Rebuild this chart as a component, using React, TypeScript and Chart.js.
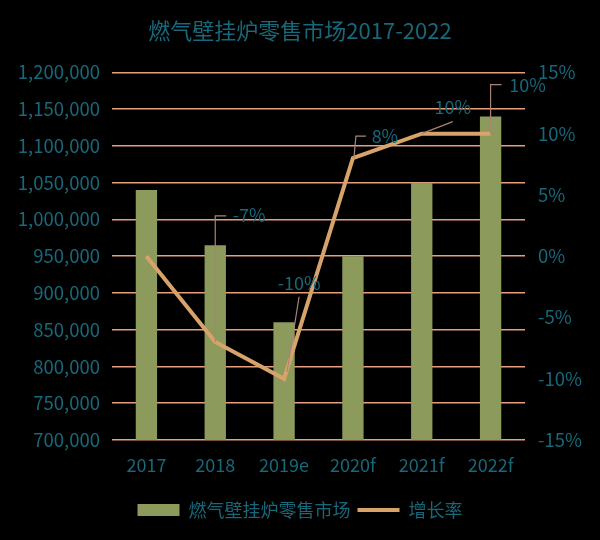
import React, { useEffect, useRef } from "react";
import { Chart, registerables } from "chart.js";

Chart.register(...registerables);

const TITLE = "燃气壁挂炉零售市场2017-2022";
const CATEGORIES = ["2017", "2018", "2019e", "2020f", "2021f", "2022f"];
const MARKET_LABEL = "燃气壁挂炉零售市场";
const MARKET_VALUES = [1040000, 965000, 860000, 950000, 1050000, 1140000];
const GROWTH_LABEL = "增长率";
const GROWTH_VALUES = [0, -7, -10, 8, 10, 10];
const GROWTH_TEXT = ["", "-7%", "-10%", "8%", "10%", "10%"];

const TEAL = "#17687a";
const GRID = "#e89e7c";
const BAR = "#8c9a5c";
const LINE = "#d8a36b";
const LEADER = "#a98476";
const FONT = "'Noto Sans CJK SC', 'Noto Sans', sans-serif";

// label placement (relative to the data point) and leader polylines
const LABEL_LAYOUT: ({ lx: number; ly: number; path: [number, number][] } | null)[] = [
  null,
  { lx: 34, ly: -127, path: [[0, 0], [0, -126], [11, -126]] },
  { lx: 15, ly: -96, path: [[3, -7], [15, -82]] },
  { lx: 32, ly: -22, path: [[1, 0], [3, -22], [13, -22]] },
  { lx: 31, ly: -27, path: [[0, 0], [31, -12]] },
  { lx: 37, ly: -49, path: [[0, 0], [0, -49], [11, -49]] },
];

const labelPlugin = {
  id: "growthLabels",
  afterDatasetsDraw(chart: any) {
    const meta = chart.getDatasetMeta(1);
    const ctx = chart.ctx;
    ctx.save();
    meta.data.forEach((pt: any, i: number) => {
      const lay = LABEL_LAYOUT[i];
      if (!lay || !GROWTH_TEXT[i]) return;
      const x = pt.x;
      const y = pt.y;
      ctx.strokeStyle = LEADER;
      ctx.lineWidth = 1.2;
      ctx.beginPath();
      lay.path.forEach(([dx, dy], k) => {
        if (k === 0) ctx.moveTo(x + dx, y + dy);
        else ctx.lineTo(x + dx, y + dy);
      });
      ctx.stroke();
      ctx.fillStyle = TEAL;
      ctx.font = `18px ${FONT}`;
      ctx.textAlign = "center";
      ctx.textBaseline = "middle";
      ctx.fillText(GROWTH_TEXT[i], x + lay.lx, y + lay.ly);
    });
    ctx.restore();
  },
};

const bgPlugin = {
  id: "bg",
  beforeDraw(chart: any) {
    const ctx = chart.ctx;
    ctx.save();
    ctx.fillStyle = "#000";
    ctx.fillRect(0, 0, chart.width, chart.height);
    ctx.restore();
  },
};

export default function App() {
  const ref = useRef<HTMLCanvasElement | null>(null);
  useEffect(() => {
    if (!ref.current) return;
    const chart = new Chart(ref.current, {
      type: "bar",
      data: {
        labels: CATEGORIES,
        datasets: [
          {
            type: "bar",
            label: MARKET_LABEL,
            data: MARKET_VALUES,
            backgroundColor: BAR,
            yAxisID: "y",
            barPercentage: 0.31,
            categoryPercentage: 1,
            order: 2,
          } as any,
          {
            type: "line",
            label: GROWTH_LABEL,
            data: GROWTH_VALUES,
            borderColor: LINE,
            backgroundColor: LINE,
            borderWidth: 4,
            pointRadius: 0,
            tension: 0,
            yAxisID: "y1",
            order: 1,
          } as any,
        ],
      },
      options: {
        animation: false,
        responsive: false,
        layout: { padding: { left: 0, right: 0, top: 0, bottom: 11 } },
        plugins: {
          tooltip: { enabled: false },
          title: {
            display: true,
            text: TITLE,
            color: TEAL,
            font: { family: FONT, size: 22, weight: "normal" },
            padding: { top: 17, bottom: 29 },
          },
          legend: {
            display: true,
            position: "bottom",
            labels: {
              color: TEAL,
              font: { family: FONT, size: 18 },
              usePointStyle: true,
              pointStyleWidth: 42,
              boxHeight: 12,
              padding: 7,
              generateLabels: () => [
                {
                  text: MARKET_LABEL,
                  fillStyle: BAR,
                  strokeStyle: BAR,
                  lineWidth: 0,
                  pointStyle: "rect",
                  fontColor: TEAL,
                  datasetIndex: 0,
                } as any,
                {
                  text: GROWTH_LABEL,
                  fillStyle: LINE,
                  strokeStyle: LINE,
                  lineWidth: 4,
                  pointStyle: "line",
                  fontColor: TEAL,
                  datasetIndex: 1,
                } as any,
              ],
            },
          },
        },
        scales: {
          x: {
            grid: { display: false, drawTicks: false },
            border: { display: false },
            ticks: { color: TEAL, font: { family: FONT, size: 18 }, padding: 14 },
            afterFit: (s: any) => {
              s.height = 54;
            },
          },
          y: {
            position: "left",
            min: 700000,
            max: 1200000,
            ticks: {
              stepSize: 50000,
              color: TEAL,
              font: { family: FONT, size: 18.5 },
              padding: 12,
              callback: (v: any) => Number(v).toLocaleString("en-US"),
            },
            grid: { color: GRID, lineWidth: 1.5, drawTicks: false },
            border: { display: false },
            afterFit: (s: any) => {
              s.width = 112;
            },
          },
          y1: {
            position: "right",
            min: -15,
            max: 15,
            ticks: {
              stepSize: 5,
              color: TEAL,
              font: { family: FONT, size: 18.5 },
              padding: 13,
              callback: (v: any) => `${v}%`,
            },
            grid: { display: false, drawTicks: false },
            border: { display: false },
            afterFit: (s: any) => {
              s.width = 75;
            },
          },
        },
      },
      plugins: [bgPlugin, labelPlugin],
    });
    return () => chart.destroy();
  }, []);
  return (
    <div style={{ position: "absolute", left: 0, top: 0, width: 600, height: 540, background: "#000" }}>
      <canvas ref={ref} width={600} height={540} style={{ width: 600, height: 540, display: "block" }} />
    </div>
  );
}
